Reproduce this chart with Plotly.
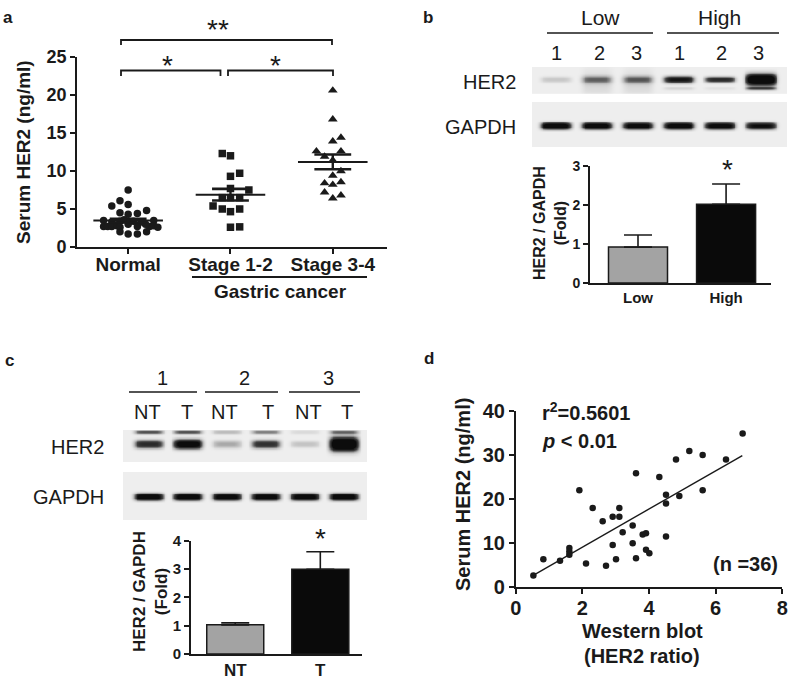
import numpy as np
import plotly.graph_objects as go

W, H = 797, 679
FONT = "Liberation Sans, Arial, sans-serif"
INK = "#1a1a1a"

# ---------------- data ----------------
# Panel a: serum HER2 (ng/ml)
groups_a = ["Normal", "Stage 1-2", "Stage 3-4"]
normal_vals = [7.5, 6.1, 5.6, 5.4, 4.5, 4.3, 4.4, 4.8, 3.5, 3.3, 3.4, 3.6, 3.4, 3.3, 3.5,
               3.0, 2.7, 2.7, 2.7, 2.8, 2.6, 2.7, 2.7, 2.8, 2.6, 2.0, 1.7, 1.7, 2.0, 3.0]
normal_jitter = [0, -0.08, 0, -0.16, -0.08, 0, 0.09, 0.18, -0.24, -0.16, -0.08, -0.04, 0.05, 0.13, 0.25,
                 0, -0.24, -0.2, -0.16, -0.11, -0.08, 0.09, 0.21, 0.25, 0.29, -0.08, 0, 0.09, 0.18, 0.17]
stage12_vals = [12.3, 12.0, 9.3, 9.7, 7.7, 7.5, 6.5, 6.5, 6.5, 5.4, 5.0, 4.65, 5.0, 2.6, 2.65]
stage12_jitter = [-0.08, 0, 0, 0.09, 0, 0.18, -0.08, 0, 0.09, -0.17, -0.08, 0, 0.09, 0, 0.09]
stage34_vals = [20.6, 16.8, 13.9, 14.4, 12.6, 11.9, 11.4, 12.6, 10.0, 9.4, 8.4, 8.55, 8.2, 7.2, 6.8, 6.4]
stage34_jitter = [0, 0, 0, 0.08, -0.16, -0.08, 0, 0.08, 0.08, 0, -0.08, 0.08, 0, -0.08, 0.08, 0]

# Panel b: western blot, Low vs High serum
lanes_b_groups = ["Low", "High"]
lanes_b_numbers = ["1", "2", "3", "1", "2", "3"]
her2_b_band = [0.18, 0.42, 0.45, 0.95, 0.8, 1.4]
her2_b_lower = [0.0, 0.0, 0.0, 0.12, 0.06, 0.6]
her2_b_smear = [0.0, 0.12, 0.12, 0.0, 0.0, 0.0]
gapdh_b_band = [1.2, 1.15, 1.1, 1.15, 1.1, 1.0]
bar_b_cats = ["Low", "High"]
bar_b_vals = [0.92, 2.02]
bar_b_err = [0.31, 0.52]

# Panel c: paired NT / T tissue blots
pairs_c = ["1", "2", "3"]
lanes_c = ["NT", "T", "NT", "T", "NT", "T"]
her2_c_band = [0.8, 1.15, 0.3, 0.75, 0.2, 1.4]
her2_c_upper = [0.6, 0.6, 0.25, 0.45, 0.1, 0.5]
gapdh_c_band = [1.15, 1.15, 1.1, 1.1, 1.1, 1.15]
bar_c_cats = ["NT", "T"]
bar_c_vals = [1.03, 2.99]
bar_c_err = [0.07, 0.62]

# Panel d: correlation
wb_ratio = [0.53, 0.83, 1.33, 1.61, 1.61, 1.61, 1.91, 2.11, 2.31, 2.61, 2.71, 2.91, 2.91, 3.01,
            3.11, 3.11, 3.21, 3.51, 3.51, 3.61, 3.61, 3.81, 3.91, 3.91, 4.01, 4.31, 4.51, 4.51,
            4.51, 4.81, 4.91, 5.21, 5.61, 5.61, 6.31, 6.81]
serum_her2 = [2.7, 6.35, 6.0, 8.9, 8.1, 7.4, 22.0, 5.4, 18.0, 15.0, 4.9, 16.0, 9.6, 6.35,
              18.0, 16.0, 12.5, 14.0, 10.0, 25.9, 6.6, 12.0, 12.25, 8.5, 7.7, 25.0, 21.0, 19.0,
              11.5, 29.0, 20.7, 30.9, 30.0, 22.0, 29.0, 34.9]
fit_x = [0.5, 6.8]
fit_y = [2.6, 29.9]


def P(xp, yp):
    return xp / W, 1 - yp / H


def font(size, bold=False, color=INK):
    return dict(family=FONT, size=size, color=color, weight="bold" if bold else "normal")


fig = go.Figure()

# ---------------- panel a ----------------
marker_syms = ["circle", "square", "triangle-up"]
vals_a = [normal_vals, stage12_vals, stage34_vals]
jit_a = [normal_jitter, stage12_jitter, stage34_jitter]
for g, (vals, jit, sym) in enumerate(zip(vals_a, jit_a, marker_syms)):
    fig.add_trace(go.Scatter(
        x=[g + j for j in jit], y=vals, mode="markers", xaxis="x", yaxis="y",
        marker=dict(symbol=sym, size=7.5 if sym != "triangle-up" else 8.5, color=INK,
                    line=dict(width=0)),
        hoverinfo="skip", showlegend=False))
    m = float(np.mean(vals))
    s = float(np.std(vals, ddof=1) / np.sqrt(len(vals)))
    for xs, ys, w in [([g - 0.34, g + 0.34], [m, m], 2),
                      ([g - 0.18, g + 0.18], [m + s, m + s], 2.6),
                      ([g - 0.18, g + 0.18], [m - s, m - s], 2.6),
                      ([g, g], [m - s, m + s], 2.4)]:
        fig.add_trace(go.Scatter(x=xs, y=ys, mode="lines", xaxis="x", yaxis="y",
                                 line=dict(color=INK, width=w), hoverinfo="skip",
                                 showlegend=False))

# ---------------- blots ----------------
def blot_image(bands, xr, nx=280, ny=60, wx=0.37):
    xs = np.linspace(xr[0], xr[1], nx)
    ys = np.linspace(0, 1, ny)
    X, Y = np.meshgrid(xs, ys)
    Z = np.zeros_like(X)
    for intens, yc, hy, pw in bands:
        for i, inten in enumerate(intens):
            h = hy[i] if isinstance(hy, (list, tuple)) else hy
            Z += inten * np.exp(-np.abs((X - i) / wx) ** 6) * np.exp(-np.abs((Y - yc) / h) ** pw)
    return xs, ys, np.clip(Z, 0, 1)


blot_scale = [[0, "rgb(238,238,238)"], [0.25, "rgb(185,185,185)"], [0.6, "rgb(70,70,70)"],
              [1, "rgb(12,12,12)"]]
xr_b = [-0.585, 5.63]
xr_c = [-0.667, 5.59]
blots = [
    ("x5", "y5", xr_b, [(her2_b_band, 0.52, [0.11, 0.14, 0.14, 0.13, 0.11, 0.22], 2.5),
                         (her2_b_lower, 0.19, 0.06, 2),
                         (her2_b_smear, 0.4, 0.45, 2)]),
    ("x6", "y6", xr_b, [(gapdh_b_band, 0.47, 0.08, 3)]),
    ("x7", "y7", xr_c, [(her2_c_band, 0.56, [0.13, 0.15, 0.12, 0.13, 0.1, 0.22], 2.5),
                         (her2_c_upper, 0.93, 0.06, 2)]),
    ("x8", "y8", xr_c, [(gapdh_c_band, 0.48, 0.075, 3)]),
]
for xa, ya, xr, bands in blots:
    xs, ys, Z = blot_image(bands, xr)
    fig.add_trace(go.Heatmap(x=xs, y=ys, z=Z, xaxis=xa, yaxis=ya, zmin=0, zmax=1,
                             colorscale=blot_scale, showscale=False, hoverinfo="skip"))

# ---------------- bar charts ----------------
for xa, ya, cats, vals, errs in [("x2", "y2", bar_b_cats, bar_b_vals, bar_b_err),
                                  ("x3", "y3", bar_c_cats, bar_c_vals, bar_c_err)]:
    fig.add_trace(go.Bar(
        x=[0, 1], y=vals, xaxis=xa, yaxis=ya, width=0.67,
        marker=dict(color=["#a3a3a3", "#0a0a0a"], line=dict(color=INK, width=1.5)),
        error_y=dict(type="data", symmetric=False, array=errs, arrayminus=[0, 0],
                     color=INK, thickness=1.6, width=14),
        hoverinfo="skip", showlegend=False))

# ---------------- panel d ----------------
fig.add_trace(go.Scatter(x=wb_ratio, y=serum_her2, mode="markers", xaxis="x4", yaxis="y4",
                         marker=dict(size=6.5, color=INK), hoverinfo="skip", showlegend=False))
fig.add_trace(go.Scatter(x=fit_x, y=fit_y, mode="lines", xaxis="x4", yaxis="y4",
                         line=dict(color=INK, width=1.4), hoverinfo="skip", showlegend=False))


# ---------------- axes ----------------
def axis(domain, rng, anchor, tickvals=None, ticktext=None, size=18, ticks="outside",
         dtick=None, standoff=0):
    d = dict(domain=domain, range=rng, anchor=anchor, showline=True, linecolor=INK,
             linewidth=1.6, ticks=ticks, ticklen=5, tickwidth=1.6, tickcolor=INK,
             showgrid=False, zeroline=False, fixedrange=True, automargin=False,
             tickfont=font(size, True), ticklabelstandoff=standoff)
    if tickvals is not None:
        d["tickvals"] = tickvals
        d["ticktext"] = ticktext
    if dtick is not None:
        d["dtick"] = dtick
        d["tick0"] = 0
    return d


def dom_x(a, b):
    return [a / W, b / W]


def dom_y(top, bottom):
    return [1 - bottom / H, 1 - top / H]


hidden = dict(visible=False, fixedrange=True, automargin=False)

layout = dict(
    width=W, height=H, margin=dict(l=0, r=0, t=0, b=0, pad=0, autoexpand=False),
    paper_bgcolor="white", plot_bgcolor="rgba(0,0,0,0)", showlegend=False,
    xaxis=axis(dom_x(77, 387), [-0.5, 2.53], "y", [0, 1, 2], groups_a, size=19, standoff=-6),
    yaxis=axis(dom_y(57, 247), [0, 25], "x", dtick=5, size=18),
    xaxis2=axis(dom_x(590, 771), [-0.545, 1.51], "y2", [0, 1], bar_b_cats, size=15, ticks=""),
    yaxis2=axis(dom_y(166, 283), [0, 3], "x2", dtick=1, size=14),
    xaxis3=axis(dom_x(191, 362), [-0.52, 1.49], "y3", [0, 1], bar_c_cats, size=17, ticks=""),
    yaxis3=axis(dom_y(540.7, 654), [0, 4], "x3", dtick=1, size=15),
    xaxis4=axis(dom_x(515.7, 782.3), [0, 8], "y4", dtick=2, size=20, standoff=-3),
    yaxis4=axis(dom_y(411, 587.3), [0, 40], "x4", dtick=10, size=20),
    xaxis5=dict(hidden, domain=dom_x(532, 787), range=xr_b, anchor="y5"),
    yaxis5=dict(hidden, domain=dom_y(67, 94), range=[0, 1], anchor="x5"),
    xaxis6=dict(hidden, domain=dom_x(532, 787), range=xr_b, anchor="y6"),
    yaxis6=dict(hidden, domain=dom_y(102, 147), range=[0, 1], anchor="x6"),
    xaxis7=dict(hidden, domain=dom_x(123, 367), range=xr_c, anchor="y7"),
    yaxis7=dict(hidden, domain=dom_y(430, 462), range=[0, 1], anchor="x7"),
    xaxis8=dict(hidden, domain=dom_x(123, 367), range=xr_c, anchor="y8"),
    yaxis8=dict(hidden, domain=dom_y(472, 520), range=[0, 1], anchor="x8"),
)
fig.update_layout(**layout)

ann = []


def text(xp, yp, t, size, bold=False, xanchor="center", yanchor="middle", angle=0):
    x, y = P(xp, yp)
    ann.append(dict(x=x, y=y, xref="paper", yref="paper", text=t, showarrow=False,
                    xanchor=xanchor, yanchor=yanchor, textangle=angle,
                    font=font(size, bold)))


shapes = []


def hline(x0, x1, y, w=1.6):
    a0, b0 = P(x0, y)
    a1, _ = P(x1, y)
    shapes.append(dict(type="line", xref="paper", yref="paper", x0=a0, x1=a1, y0=b0, y1=b0,
                       line=dict(color=INK, width=w)))


def bracket(x0, x1, ytop, ybot, w=1.8):
    a0, bt = P(x0, ytop)
    a1, bb = P(x1, ybot)
    shapes.append(dict(type="path", xref="paper", yref="paper",
                       path=f"M {a0},{bb} L {a0},{bt} L {a1},{bt} L {a1},{bb}",
                       line=dict(color=INK, width=w)))


# panel labels
text(8, 17, "a", 17, True)
text(428, 17, "b", 17, True)
text(9, 360, "c", 17, True)
text(429, 358, "d", 17, True)

# panel a extras
text(23, 152, "Serum HER2 (ng/ml)", 19, True, angle=-90)
bracket(121, 332, 40, 45)
bracket(121, 220.5, 70.5, 76)
bracket(228, 333, 70.5, 76)
text(218, 30, "**", 28)
text(167, 66, "*", 28)
text(275, 66, "*", 28)
hline(192, 367, 277, 2)
text(280, 291, "Gastric cancer", 19, True)

# panel b extras
text(600, 17, lanes_b_groups[0], 21)
text(719, 17, lanes_b_groups[1], 21)
hline(547, 653, 33, 1.5)
hline(667, 779, 33, 1.5)
for xp, lab in zip([556, 599, 636, 679, 721, 758], lanes_b_numbers):
    text(xp, 53, lab, 20)
text(518, 82, "HER2", 20, xanchor="right")
text(518, 127, "GAPDH", 20, xanchor="right")
text(727, 169, "*", 28)
text(550, 223, "HER2 / GAPDH<br>(Fold)", 16, True, angle=-90)

# panel c extras
for xp, lab in zip([162, 245, 328], pairs_c):
    text(xp, 378, lab, 20)
hline(129, 197, 392, 1.5)
hline(205, 278, 392, 1.5)
hline(289, 360, 392, 1.5)
for xp, lab in zip([147, 187, 224, 268, 308, 347], lanes_c):
    text(xp, 412, lab, 20)
text(106, 447, "HER2", 20, xanchor="right")
text(106, 497, "GAPDH", 20, xanchor="right")
text(320, 538, "*", 28)
text(150, 592, "HER2 / GAPDH<br>(Fold)", 17, True, angle=-90)

# panel d extras
text(540, 412, "r<sup>2</sup>=0.5601", 20, True, xanchor="left")
text(540, 441, "<i>p</i> < 0.01", 20, True, xanchor="left")
text(780, 564, "(n =36)", 20, True, xanchor="right")
text(463, 494, "Serum HER2 (ng/ml)", 20, True, angle=-90)
text(642, 631, "Western blot", 20, True)
text(642, 656, "(HER2 ratio)", 20, True)

fig.update_layout(annotations=ann, shapes=shapes)
fig.write_html("out.html", config={"displayModeBar": False},
               post_script="document.body.style.margin='0';document.body.style.padding='0';")
